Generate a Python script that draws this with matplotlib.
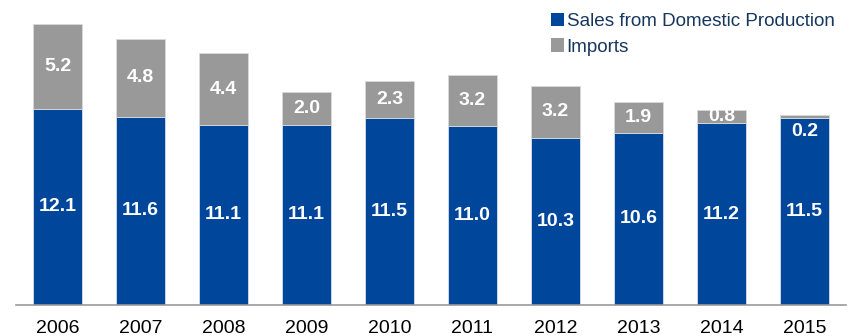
import matplotlib
matplotlib.use("Agg")
import matplotlib.pyplot as plt
from matplotlib.patches import Patch

years = ["2006", "2007", "2008", "2009", "2010", "2011", "2012", "2013", "2014", "2015"]
domestic = [12.1, 11.6, 11.1, 11.1, 11.5, 11.0, 10.3, 10.6, 11.2, 11.5]
imports = [5.2, 4.8, 4.4, 2.0, 2.3, 3.2, 3.2, 1.9, 0.8, 0.2]

blue = "#00479B"
gray = "#999999"
legend_text = "#17375E"

plt.rcParams["font.family"] = ["Liberation Sans", "DejaVu Sans"]

fig = plt.figure(figsize=(8.51, 3.36), dpi=100)
ax = fig.add_axes([16 / 851, 31 / 336, 830 / 851, 305 / 336])

x = list(range(len(years)))
width = 0.59
b1 = ax.bar(x, domestic, width, color=blue, edgecolor="#d8dfeb", linewidth=0.6)
b2 = ax.bar(x, imports, width, bottom=domestic, color=gray, edgecolor="#d9d9d9", linewidth=0.6)

label_kw = dict(color="white", fontsize=14, fontweight="bold", ha="center", va="center")
for i in x:
    ax.text(i, domestic[i] / 2, f"{domestic[i]:.1f}", **label_kw)
    if imports[i] >= 0.5:
        ax.text(i, domestic[i] + imports[i] / 2, f"{imports[i]:.1f}", **label_kw)
    else:
        # thin segment: put its value just inside the bar below it
        ax.text(i, domestic[i] - 0.8, f"{imports[i]:.1f}", **label_kw)

ax.set_xlim(-0.5, 9.5)
ax.set_ylim(0, 18.79)
ax.set_xticks(x)
ax.set_xticklabels(years, fontsize=14, color="black")
ax.tick_params(axis="x", length=0, pad=11)
ax.set_yticks([])
for side in ["top", "left", "right"]:
    ax.spines[side].set_visible(False)
ax.spines["bottom"].set_color("#999999")
ax.spines["bottom"].set_linewidth(1.2)

handles = [Patch(facecolor=blue, edgecolor="none"), Patch(facecolor=gray, edgecolor="none")]
leg = ax.legend(handles, ["Sales from Domestic Production", "Imports"],
                loc="upper left", bbox_to_anchor=(545 / 851, 1 - 7 / 336), bbox_transform=fig.transFigure,
                frameon=False, fontsize=13.6, handlelength=0.7, handleheight=0.7,
                handletextpad=0.15, labelspacing=0.45, borderaxespad=0, borderpad=0.3)
for t in leg.get_texts():
    t.set_color(legend_text)

fig.savefig("out.png", dpi=100)
